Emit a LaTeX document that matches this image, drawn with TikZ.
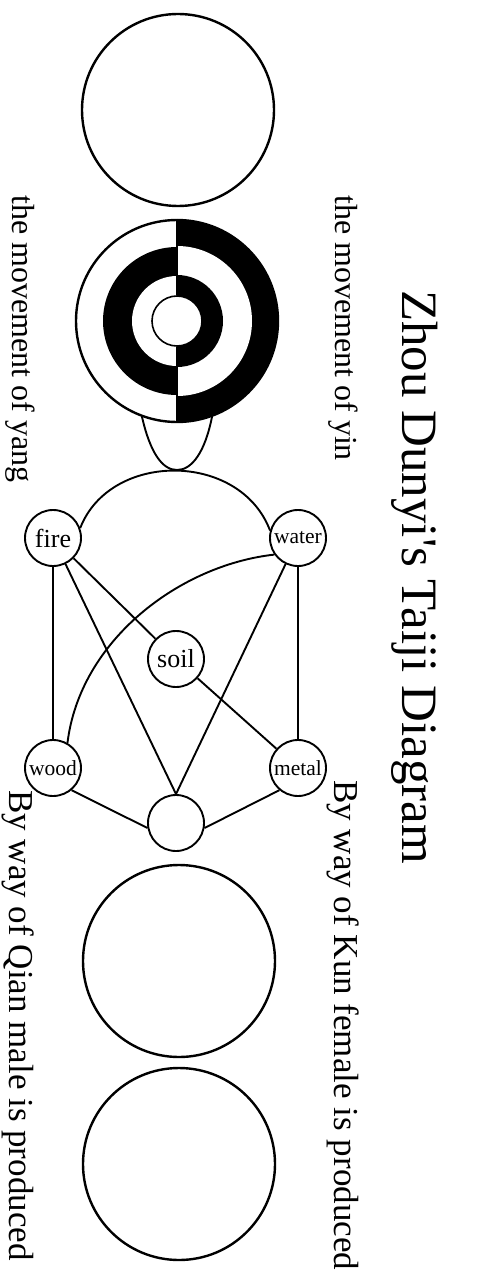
\documentclass[tikz,border=0pt]{standalone}
\usepackage{fontspec}
\setmainfont{Liberation Serif}
\begin{document}
\begin{tikzpicture}[x=1pt,y=-1pt,
  bigdisc/.style={circle,draw,line width=2.4pt,minimum size=192pt,inner sep=0pt},
  elem/.style={circle,draw,line width=1.9pt,minimum size=56pt,inner sep=0pt,fill=white},
  link/.style={line width=1.9pt},
  side/.style={rotate=-90,anchor=west,inner sep=0pt,font=\fontsize{32}{38}\selectfont},
  ]
\useasboundingbox (0,0) rectangle (481,1273);
\fill[white] (0,0) rectangle (481,1273);

% Wuji: the empty circle at the top
\node[bigdisc] (wuji) at (178,110) {};

% yin and yang: interlocking half rings
\coordinate (tc) at (177,321);
\fill (177,220) arc[start angle=-90,end angle=90,radius=101] -- cycle;
\fill[white] (177,246) arc[start angle=-90,end angle=90,radius=75] -- cycle;
\fill (177,275) arc[start angle=-90,end angle=90,radius=46] -- cycle;
\fill (177,247) arc[start angle=-90,end angle=-270,radius=74] -- cycle;
\fill[white] (177,276) arc[start angle=-90,end angle=-270,radius=45] -- cycle;
\node[circle,draw,line width=1.6pt,fill=white,minimum size=50pt,inner sep=0pt] (core) at (tc) {};
\node[circle,draw,line width=2.4pt,minimum size=202pt,inner sep=0pt] (taiji) at (tc) {};
\draw[line width=1.2pt] (taiji.north) -- (core.north) (core.south) -- (taiji.south);

% the cup hanging below the rings
\coordinate (tip) at (177,470);
\draw[link] (taiji.250) .. controls (150,452) and (162,470) .. (tip)
            .. controls (192,470) and (205,452) .. (taiji.290);

% the five phases
\node[elem,font=\fontsize{26}{26}\selectfont] (fire)  at (53,538)  {fire};
\node[elem,font=\fontsize{21.5}{22}\selectfont] (water) at (298,538) {water};
\node[elem,font=\fontsize{26}{26}\selectfont] (soil)  at (176,659) {soil};
\node[elem,font=\fontsize{21.5}{22}\selectfont] (wood)  at (53,768)  {wood};
\node[elem,font=\fontsize{21.5}{22}\selectfont] (metal) at (298,768) {metal};
\node[elem] (union) at (176,823) {};

\draw[link] (fire.20) .. controls (110,451) and (240,451) .. (water.165);
\draw[link] (fire) -- (wood);
\draw[line width=2.6pt] (water) -- (metal);
\draw[link] (fire) -- (soil);
\draw[link] (fire) -- (union.north);
\draw[link] (water) -- (union.north);
\draw[link] (water.215) .. controls (180,565) and (80,640) .. (wood.60);
\draw[link] (soil) -- (metal);
\draw[link] (wood.-50) -- (union.190);
\draw[link] (metal.-130) -- (union.-10);

% Kun and Qian circles
\node[bigdisc] (kunc)  at (179,961)  {};
\node[bigdisc] (qianc) at (179,1164) {};

% captions
\node[side] (yin)  at (343,195) {the movement of yin};
\node[side] (yang) at (20,195)  {the movement of yang};
\node[side,font=\fontsize{51}{60}\selectfont] (title) at (415,290) {Zhou Dunyi\textquotesingle s Taiji Diagram};
\node[side,font=\fontsize{35}{40}\selectfont] (kun)  at (343,780) {By way of Kun female is produced};
\node[side,font=\fontsize{35}{40}\selectfont] (qian) at (18,790)  {By way of Qian male is produced};
\end{tikzpicture}
\end{document}
